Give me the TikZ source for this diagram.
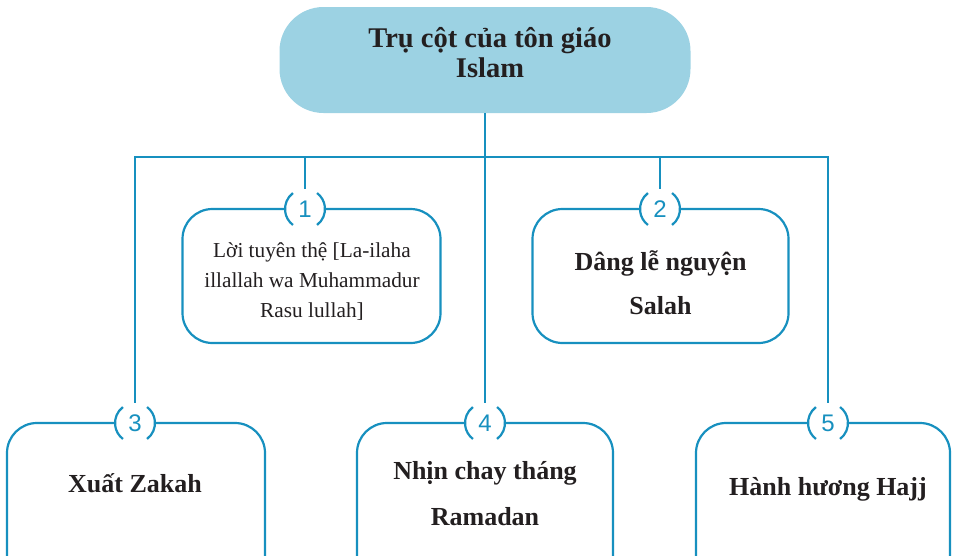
\documentclass[tikz,border=0pt]{standalone}
\usepackage{fontspec}
\setmainfont{Liberation Serif}
\newfontfamily\numfont{Liberation Sans}
\definecolor{lineblue}{HTML}{1790BF}
\definecolor{topfill}{HTML}{9CD2E3}
\definecolor{txt}{HTML}{231F20}
\begin{document}
\begin{tikzpicture}[x=1pt,y=-1pt,
  conn/.style={draw=lineblue, line width=2.8pt},
  topbox/.style={fill=topfill, rounded corners=44pt, minimum width=411pt, minimum height=106pt, inner sep=0pt},
  pillar/.style={draw=lineblue, fill=white, line width=2.2pt, rounded corners=30pt, minimum height=134pt, inner sep=0pt},
  numc/.style={circle, fill=white, minimum size=40pt, inner sep=0pt, text=lineblue, font=\numfont\fontsize{24pt}{24pt}\selectfont},
  arcline/.style={draw=lineblue, line width=2.2pt},
  titletext/.style={align=center, text=txt, anchor=base, font=\bfseries\fontsize{28.5pt}{30pt}\selectfont},
  lblb/.style={align=center, text=txt, anchor=base, font=\bfseries\fontsize{26pt}{44pt}\selectfont},
  lblr/.style={align=center, text=txt, anchor=base, font=\fontsize{21.3pt}{30pt}\selectfont}
]
\useasboundingbox (0,0) rectangle (955,555);
\clip (0,0) rectangle (955,555);

% top node
\node[topbox] (top) at (485,60) {};
\node[titletext] (title) at (490,77) {Trụ cột của tôn giáo\\Islam};

% hub coordinates
\coordinate (hub) at (485,157);

% pillar boxes
\node[pillar, minimum width=258pt] (b1) at (311.5,276) {};
\node[pillar, minimum width=256pt] (b2) at (660.5,276) {};
\node[pillar, minimum width=258pt, minimum height=170pt] (b3) at (136,508) {};
\node[pillar, minimum width=256pt, minimum height=170pt] (b4) at (485,508) {};
\node[pillar, minimum width=254pt, minimum height=170pt] (b5) at (823,508) {};

% number circles
\node[numc] (n1) at (305,209) {1};
\node[numc] (n2) at (660,209) {2};
\node[numc] (n3) at (135,423) {3};
\node[numc] (n4) at (485,423) {4};
\node[numc] (n5) at (828,423) {5};

% connectors
\draw[conn] (n3.north) -- (n3.north |- hub) -- (n5.north |- hub) -- (n5.north);
\draw[conn] (top.south) -- (hub) -- (n4.north);
\draw[conn] (n1.north) -- (n1.north |- hub);
\draw[conn] (n2.north) -- (n2.north |- hub);

% circle arcs
\foreach \n in {n1,n2,n3,n4,n5}{
  \draw[arcline] ([shift={(127:20pt)}]\n.center) arc[start angle=127, end angle=233, radius=20pt];
  \draw[arcline] ([shift={(-53:20pt)}]\n.center) arc[start angle=-53, end angle=53, radius=20pt];
}

% texts
\node[lblr] (t1) at (312,317) {Lời tuyên thệ [La-ilaha\\illallah wa Muhammadur\\Rasu lullah]};
\node[lblb] (t2) at (660.5,314.5) {Dâng lễ nguyện\\Salah};
\node[lblb] (t3) at (135,492.5) {Xuất Zakah};
\node[lblb, font=\bfseries\fontsize{26pt}{46pt}\selectfont] (t4) at (485,525) {Nhịn chay tháng\\Ramadan};
\node[lblb] (t5) at (828,495) {Hành hương Hajj};
\end{tikzpicture}
\end{document}
